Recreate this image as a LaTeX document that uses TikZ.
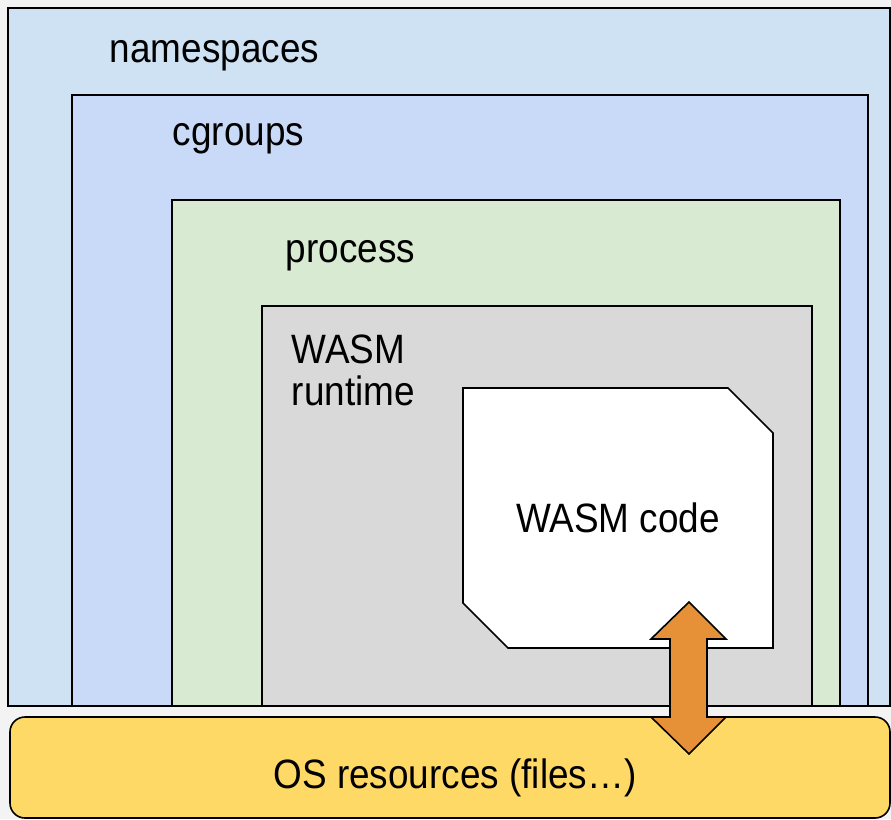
\documentclass[tikz,border=0pt]{standalone}
\usepackage{fontspec}
\setmainfont{Liberation Sans}[FakeStretch=0.9]
\definecolor{nsfill}{HTML}{CFE2F3}
\definecolor{cgfill}{HTML}{C9DAF8}
\definecolor{procfill}{HTML}{D9EAD3}
\definecolor{rtfill}{HTML}{D9D9D9}
\definecolor{osfill}{HTML}{FFD966}
\definecolor{iofill}{HTML}{E69138}
\definecolor{pagefill}{HTML}{F3F3F3}

\begin{document}
\begin{tikzpicture}[x=1pt,y=-1pt,line width=1.6pt,
  lbl/.style={inner sep=0pt,font=\fontsize{41}{49}\selectfont}]
\clip (0,0) rectangle (891,819);
\fill[pagefill] (0,0) rectangle (891,819);

\draw[fill=nsfill] (8,8) rectangle (890,706);
\draw[fill=cgfill] (72,95) rectangle (868,706);
\draw[fill=procfill] (172,200) rectangle (840,706);
\draw[fill=rtfill] (262,306) rectangle (812,706);
\draw[fill=white] (463,388) -- (728,388) -- (773,433) -- (773,648) -- (508,648) -- (463,603) -- cycle;
\draw[fill=osfill,rounded corners=15pt] (10,717) rectangle (890,818);
\draw[fill=iofill] (689,602) -- (726,639) -- (707,639) -- (707,717) -- (726,717) -- (689,754)
  -- (651,717) -- (670,717) -- (670,639) -- (651,639) -- cycle;

\node[lbl,anchor=base west] (ns) at (109,62) {namespaces};
\node[lbl,anchor=base west] (cg) at (172,145) {cgroups};
\node[lbl,anchor=base west] (proc) at (285,262) {process};
\node[lbl,anchor=base west] (rt) at (291,363) {WASM};
\node[lbl,anchor=base west] (rt2) at (291,405) {runtime};
\node[lbl,anchor=base] (code) at (618,532) {WASM code};
\node[lbl,anchor=base] (os) at (455,788) {OS resources (files…)};
\end{tikzpicture}
\end{document}
